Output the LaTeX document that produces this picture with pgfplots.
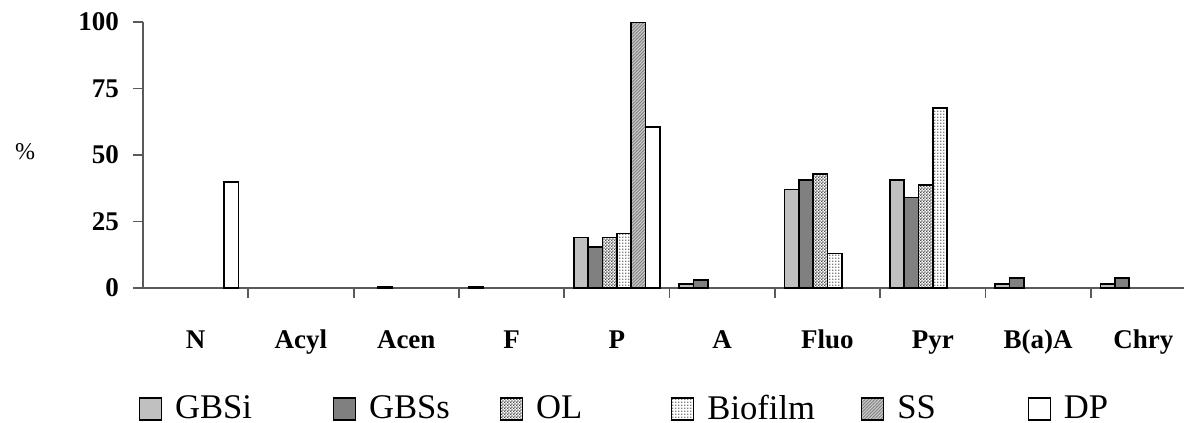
\documentclass[border=0pt]{standalone}
\usepackage{fontspec}
\setmainfont{Liberation Serif}
\usepackage{pgfplots}
\pgfplotsset{compat=1.18}
\usetikzlibrary{patterns}

% fine fills like the original hatchings
\pgfdeclarepatternformonly{oldots}{\pgfqpoint{0pt}{0pt}}{\pgfqpoint{1.4pt}{1.4pt}}{\pgfqpoint{1.4pt}{1.4pt}}{%
  \pgfpathrectangle{\pgfqpoint{0pt}{0pt}}{\pgfqpoint{0.7pt}{0.7pt}}%
  \pgfpathrectangle{\pgfqpoint{0.7pt}{0.7pt}}{\pgfqpoint{0.7pt}{0.7pt}}%
  \pgfusepath{fill}}
\pgfdeclarepatternformonly{biodots}{\pgfqpoint{0pt}{0pt}}{\pgfqpoint{1.4pt}{1.4pt}}{\pgfqpoint{1.4pt}{1.4pt}}{%
  \pgfpathrectangle{\pgfqpoint{0pt}{0pt}}{\pgfqpoint{0.7pt}{0.7pt}}%
  \pgfusepath{fill}}
\pgfdeclarepatternformonly{sslines}{\pgfqpoint{-0.2pt}{-0.2pt}}{\pgfqpoint{1.8pt}{1.8pt}}{\pgfqpoint{1.6pt}{1.6pt}}{%
  \pgfsetlinewidth{0.4pt}%
  \pgfpathmoveto{\pgfqpoint{-0.2pt}{-0.2pt}}%
  \pgfpathlineto{\pgfqpoint{1.8pt}{1.8pt}}%
  \pgfusepath{stroke}}

\definecolor{gbsi}{RGB}{192,192,192}
\definecolor{gbss}{RGB}{128,128,128}
\definecolor{axisgray}{RGB}{90,90,90}

\begin{document}
\begin{tikzpicture}
\path[use as bounding box] (-71.5pt,-67.5pt) rectangle (520.5pt,144pt);
\begin{axis}[
  at={(0pt,0pt)}, anchor=south west,
  scale only axis,
  width=520.5pt, height=133pt,
  xmin=-0.5, xmax=9.386,
  ymin=0, ymax=100,
  axis lines=left,
  axis line style={-, draw=axisgray, line width=0.9pt},
  tick style={draw=axisgray, line width=0.9pt},
  tick align=outside,
  major tick length=5pt,
  ytick={0,25,50,75,100},
  xtick={0.5,1.5,...,8.5},
  xticklabels={},
  extra x ticks={0,1,...,9},
  extra x tick labels={N,Acyl,Acen,F,P,A,Fluo,Pyr,B(a)A,Chry},
  extra x tick style={major tick length=0pt},
  /pgf/number format/assume math mode=true,
  ticklabel style={font=\fontsize{13.5}{16}\selectfont\bfseries},
  xticklabel style={anchor=base, yshift=-30pt},
  yticklabel style={xshift=-3.5pt},
  ybar=0pt, bar width=7.15pt,
  every axis plot/.append style={draw=black, line width=0.9pt},
  legend columns=6,
  legend cell align=left,
  legend image code/.code={\draw[#1, line width=0.6pt] (0pt,-5.5pt) rectangle (11pt,5.5pt);},
  legend style={draw=none, fill=none, inner sep=0pt, outer sep=0pt,
    at={(axis description cs:-0.004,-0.455)}, anchor=west,
    font=\fontsize{17.3}{20}\selectfont,
    nodes={inner sep=0pt},
    /tikz/every odd column/.append style={column sep=6.5pt},
    /tikz/column 2/.style={column sep=40.5pt},
    /tikz/column 4/.style={column sep=25pt},
    /tikz/column 6/.style={column sep=44.5pt},
    /tikz/column 8/.style={column sep=23pt},
    /tikz/column 10/.style={column sep=46pt}},
]
% GBSi
\addplot[fill=gbsi] coordinates {(3,0.5) (4,19) (5,1.5) (6,37) (7,40.5) (8,1.5) (9,1.5)};
% GBSs
\addplot[fill=gbss] coordinates {(2,0.6) (4,15.5) (5,3) (6,40.5) (7,34) (8,3.8) (9,3.8)};
% OL
\addplot[fill=white, postaction={pattern=oldots, pattern color=black!70}] coordinates {(4,19) (6,43) (7,38.8)};
% Biofilm
\addplot[fill=white, postaction={pattern=biodots, pattern color=black!50}] coordinates {(4,20.5) (6,13) (7,67.6)};
% SS
\addplot[fill=black!20, postaction={pattern=sslines, pattern color=black!50}] coordinates {(4,100)};
% DP
\addplot[fill=white] coordinates {(0,40) (4,60.5)};
\legend{GBSi,GBSs,OL,Biofilm,SS,DP}
\end{axis}
\node[font=\fontsize{12}{14}\selectfont] at (-59pt,68pt) {\%};
\end{tikzpicture}
\end{document}
